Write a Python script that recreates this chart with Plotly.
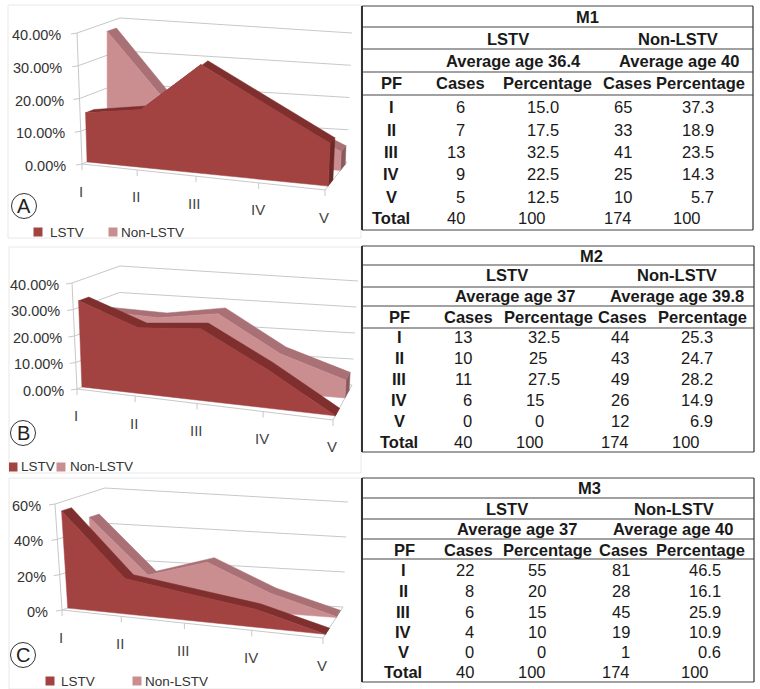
import plotly.graph_objects as go

W, H = 760, 689
FONT = "Liberation Sans"

# ---------- data ----------
grades = ["I", "II", "III", "IV", "V"]
series_names = ["LSTV", "Non-LSTV"]

m1_lstv_cases = ["6", "7", "13", "9", "5"]
m1_lstv_pct = ["15.0", "17.5", "32.5", "22.5", "12.5"]
m1_non_cases = ["65", "33", "41", "25", "10"]
m1_non_pct = ["37.3", "18.9", "23.5", "14.3", "5.7"]

m2_lstv_cases = ["13", "10", "11", "6", "0"]
m2_lstv_pct = ["32.5", "25", "27.5", "15", "0"]
m2_non_cases = ["44", "43", "49", "26", "12"]
m2_non_pct = ["25.3", "24.7", "28.2", "14.9", "6.9"]

m3_lstv_cases = ["22", "8", "6", "4", "0"]
m3_lstv_pct = ["55", "20", "15", "10", "0"]
m3_non_cases = ["81", "28", "45", "19", "1"]
m3_non_pct = ["46.5", "16.1", "25.9", "10.9", "0.6"]

total_row = ["40", "100", "174", "100"]

ticks_a = [0, 10, 20, 30, 40]
ticks_b = [0, 10, 20, 30, 40]
ticks_c = [0, 20, 40, 60]
tick_text_a = ["0.00%", "10.00%", "20.00%", "30.00%", "40.00%"]
tick_text_b = ["0.00%", "10.00%", "20.00%", "30.00%", "40.00%"]
tick_text_c = ["0%", "20%", "40%", "60%"]

# ---------- style ----------
LSTV_FACE, LSTV_TOP, LSTV_CAP = "#A24342", "#7F2F2E", "#6E2827"
NON_FACE, NON_TOP, NON_CAP = "#CB8E90", "#A97075", "#8A5A5E"
GRID = "#C8C8C8"
CAT_POS = [0, 0.227, 0.469, 0.727, 1]  # foreshortening of the category axis

panels = [
    dict(letter="A", box=(8, 5, 361, 238), ymax=40, ticks=ticks_a, tick_text=tick_text_a,
         lstv=m1_lstv_pct, non=m1_non_pct,
         fbl=(82, 164), fbr=(325, 190), ftl=(77, 33), ftr=(332, 52),
         bbl=(118, 149), bbr=(347, 162), btl=(120, 18), btr=(352, 33),
         w_l=(0.14, 0.36), w_n=(0.70, 0.92), tick_dx=-16,
         leg=((38, 232), (48, 232), (113, 232), (119, 232)), circle=(24, 206)),
    dict(letter="B", box=(9, 247, 361, 473), ymax=40, ticks=ticks_b, tick_text=tick_text_b,
         lstv=m2_lstv_pct, non=m2_non_pct,
         fbl=(77, 389), fbr=(333, 420), ftl=(72, 283), ftr=(338, 318),
         bbl=(118, 372), bbr=(352, 385), btl=(120, 266), btr=(358, 281),
         w_l=(0.12, 0.34), w_n=(0.63, 0.85), tick_dx=-13,
         leg=((13, 467), (19, 467), (61, 467), (68, 467)), circle=(23, 433)),
    dict(letter="C", box=(9, 478, 361, 689), ymax=60, ticks=ticks_c, tick_text=tick_text_c,
         lstv=m3_lstv_pct, non=m3_non_pct,
         fbl=(62, 610), fbr=(323, 638), ftl=(55, 504), ftr=(330, 530),
         bbl=(110, 594), bbr=(343, 607), btl=(105, 488), btr=(348, 502),
         w_l=(0.12, 0.32), w_n=(0.66, 0.86), tick_dx=-14,
         leg=((50, 681), (59, 681), (137, 681), (143, 681)), circle=(23, 655)),
]

tables = [
    dict(title="M1", title_x=587, age=("Average age 36.4", "Average age 40"),
         lstv_cases=m1_lstv_cases, lstv_pct=m1_lstv_pct, non_cases=m1_non_cases, non_pct=m1_non_pct,
         left=362, right=753, lines=[6, 27, 49, 72, 95, 230], text_y=[17, 39, 61, 83],
         rows_y=[107, 130, 152, 174, 197, 218],
         head_x=dict(pf=391, lstv=508, non=678, a1=513, a2=679, c1=460, p1=547, c2=627, p2=700),
         pf_x=391, c1r=467, p1r=[561, 561, 561, 561, 561, 548], c2r=634, p2r=716, p2total=703),
    dict(title="M2", title_x=591, age=("Average age 37", "Average age 39.8"),
         lstv_cases=m2_lstv_cases, lstv_pct=m2_lstv_pct, non_cases=m2_non_cases, non_pct=m2_non_pct,
         left=362, right=754, lines=[246, 265, 287, 306, 328, 452], text_y=[256, 275, 296, 317],
         rows_y=[337, 358, 379, 400, 421, 442],
         head_x=dict(pf=399, lstv=507, non=677, a1=515, a2=677, c1=468, p1=548, c2=622, p2=702),
         pf_x=399, c1r=474, p1r=[562, 549, 562, 546, 546, 546], c2r=631, p2r=715, p2total=702),
    dict(title="M3", title_x=589, age=("Average age 37", "Average age 40"),
         lstv_cases=m3_lstv_cases, lstv_pct=m3_lstv_pct, non_cases=m3_non_cases, non_pct=m3_non_pct,
         left=362, right=754, lines=[478, 498, 519, 539, 559, 682], text_y=[488, 509, 529, 550],
         rows_y=[570, 591, 612, 632, 652, 672],
         head_x=dict(pf=404, lstv=507, non=674, a1=517, a2=673, c1=468, p1=547, c2=623, p2=700),
         pf_x=403, c1r=476, p1r=[548, 548, 548, 548, 548, 548], c2r=632, p2r=723, p2total=711),
]


def project(p, u, v, w):
    """Trilinear map of (category 0-1, value 0-1, depth 0-1) onto the panel's pixels."""
    out = []
    for k in (0, 1):
        f_b = p["fbl"][k] * (1 - u) + p["fbr"][k] * u
        f_t = p["ftl"][k] * (1 - u) + p["ftr"][k] * u
        b_b = p["bbl"][k] * (1 - u) + p["bbr"][k] * u
        b_t = p["btl"][k] * (1 - u) + p["btr"][k] * u
        f = f_b * (1 - v) + f_t * v
        b = b_b * (1 - v) + b_t * v
        out.append(f * (1 - w) + b * w)
    return out


def xp(x):
    return x / W


def yp(y):
    return 1 - y / H


fig = go.Figure()
annotations, shapes = [], []
layout_axes = {}


def poly(xa, ya, pts, color):
    fig.add_trace(go.Scatter(
        x=[q[0] for q in pts] + [pts[0][0]], y=[q[1] for q in pts] + [pts[0][1]],
        mode="lines", fill="toself", fillcolor=color, line=dict(color=color, width=0.5),
        hoverinfo="skip", xaxis=xa, yaxis=ya, showlegend=False))


def polyline(xa, ya, xs, ys, color=GRID, width=1):
    fig.add_trace(go.Scatter(x=xs, y=ys, mode="lines", line=dict(color=color, width=width),
                             hoverinfo="skip", xaxis=xa, yaxis=ya, showlegend=False))


for idx, p in enumerate(panels):
    sfx = "" if idx == 0 else str(idx + 1)
    xa, ya = "x" + sfx, "y" + sfx
    x0, y0, x1, y1 = p["box"]
    layout_axes["xaxis" + sfx] = dict(domain=[xp(x0), xp(x1)], range=[x0, x1], visible=False,
                                      anchor=ya, fixedrange=True)
    layout_axes["yaxis" + sfx] = dict(domain=[yp(y1), yp(y0)], range=[y1, y0], visible=False,
                                      anchor=xa, fixedrange=True)
    shapes.append(dict(type="rect", xref="paper", yref="paper", x0=xp(x0), x1=xp(x1), y0=yp(y1), y1=yp(y0),
                       line=dict(color="#E8E8E8", width=1), fillcolor="rgba(0,0,0,0)", layer="below"))

    ymax = p["ymax"]

    # grid: front-left edge, left wall and back wall
    for t, label in zip(p["ticks"], p["tick_text"]):
        v = t / ymax
        a, b, c = project(p, 0, v, 0), project(p, 0, v, 1), project(p, 1, v, 1)
        polyline(xa, ya, [a[0] - 6, a[0], b[0], c[0]], [a[1] + 1, a[1], b[1], c[1]])
        annotations.append(dict(text=label, xref=xa, yref=ya, x=a[0] + p["tick_dx"] + 2, y=a[1] + 2,
                                xanchor="right", yanchor="middle", showarrow=False,
                                font=dict(family=FONT, size=14.5, color="#333333")))
    a, b = project(p, 0, 0, 0), project(p, 0, 1, 0)
    polyline(xa, ya, [a[0], b[0]], [a[1], b[1]])

    # floor edges and category ticks
    a, b, c = project(p, 0, 0, 0), project(p, 1, 0, 0), project(p, 1, 0, 1)
    polyline(xa, ya, [a[0], b[0], c[0]], [a[1], b[1], c[1]])
    for u, g in zip(CAT_POS, grades):
        f = project(p, u, 0, 0)
        polyline(xa, ya, [f[0], f[0]], [f[1], f[1] + 6])
        annotations.append(dict(text=g, xref=xa, yref=ya, x=f[0] - 1, y=f[1] + 27,
                                showarrow=False, font=dict(family=FONT, size=15, color="#444444")))

    # areas, painted from back to front
    for vals, (w0, w1), face, top, cap in [
        (p["non"], p["w_n"], NON_FACE, NON_TOP, NON_CAP),
        (p["lstv"], p["w_l"], LSTV_FACE, LSTV_TOP, LSTV_CAP),
    ]:
        nums = [float(s) / ymax for s in vals]
        front = [project(p, u, v, w0) for u, v in zip(CAT_POS, nums)]
        back = [project(p, u, v, w1) for u, v in zip(CAT_POS, nums)]
        base = [project(p, u, 0, w0) for u in CAT_POS]
        poly(xa, ya, [project(p, 1, nums[-1], w0), project(p, 1, nums[-1], w1),
                      project(p, 1, 0, w1), project(p, 1, 0, w0)], cap)
        poly(xa, ya, front + back[::-1], top)
        poly(xa, ya, front + base[::-1], face)

    # legend
    (sx1, sy1), (tx1, ty1), (sx2, sy2), (tx2, ty2) = p["leg"]
    fig.add_trace(go.Scatter(x=[sx1, sx2], y=[sy1, sy2], mode="markers", hoverinfo="skip",
                             marker=dict(symbol="square", size=9, color=[LSTV_FACE, NON_FACE]),
                             xaxis=xa, yaxis=ya, showlegend=False))
    for tx, ty, name in ((tx1, ty1, series_names[0]), (tx2, ty2, series_names[1])):
        annotations.append(dict(text=name, xref=xa, yref=ya, x=tx, y=ty, xanchor="left", showarrow=False,
                                font=dict(family=FONT, size=13.5, color="#333333")))

    # panel letter
    cx, cy = p["circle"]
    fig.add_trace(go.Scatter(x=[cx], y=[cy], mode="markers", hoverinfo="skip",
                             marker=dict(symbol="circle-open", size=25, color="#333333", line=dict(width=1)),
                             xaxis=xa, yaxis=ya, showlegend=False))
    annotations.append(dict(text=p["letter"], xref=xa, yref=ya, x=cx, y=cy, showarrow=False,
                            font=dict(family=FONT, size=20, color="#222222")))


def txt(x, y, s, bold=False, anchor="center", size=16.5):
    annotations.append(dict(text=f"<b>{s}</b>" if bold else s, xref="paper", yref="paper", x=xp(x), y=yp(y),
                            xanchor=anchor, yanchor="middle", showarrow=False,
                            font=dict(family=FONT, size=size, color="#1A1A1A")))


for t in tables:
    L, R = t["left"], t["right"]
    for y in t["lines"]:
        shapes.append(dict(type="line", xref="paper", yref="paper", x0=xp(L), x1=xp(R), y0=yp(y), y1=yp(y),
                           line=dict(color="#444444", width=1.2)))
    for x, w in ((L, 2), (R, 1.2)):
        shapes.append(dict(type="line", xref="paper", yref="paper", x0=xp(x), x1=xp(x),
                           y0=yp(t["lines"][0]), y1=yp(t["lines"][-1]), line=dict(color="#333333", width=w)))
    h, ty = t["head_x"], t["text_y"]
    txt(t["title_x"], ty[0], t["title"], True)
    txt(h["lstv"], ty[1], "LSTV", True)
    txt(h["non"], ty[1], "Non-LSTV", True)
    txt(h["a1"], ty[2], t["age"][0], True)
    txt(h["a2"], ty[2], t["age"][1], True)
    txt(h["pf"], ty[3], "PF", True)
    txt(h["c1"], ty[3], "Cases", True)
    txt(h["p1"], ty[3], "Percentage", True)
    txt(h["c2"], ty[3], "Cases", True)
    txt(h["p2"], ty[3], "Percentage", True)
    for i, g in enumerate(grades):
        y = t["rows_y"][i]
        txt(t["pf_x"], y, g, True)
        txt(t["c1r"], y, t["lstv_cases"][i], anchor="right")
        txt(t["p1r"][i], y, t["lstv_pct"][i], anchor="right")
        txt(t["c2r"], y, t["non_cases"][i], anchor="right")
        txt(t["p2r"], y, t["non_pct"][i], anchor="right")
    y = t["rows_y"][5]
    txt(t["pf_x"], y, "Total", True)
    txt(t["c1r"], y, total_row[0], anchor="right")
    txt(t["p1r"][5], y, total_row[1], anchor="right")
    txt(t["c2r"], y, total_row[2], anchor="right")
    txt(t["p2total"], y, total_row[3], anchor="right")

fig.update_layout(width=W, height=H, margin=dict(l=0, r=0, t=0, b=0), showlegend=False,
                  paper_bgcolor="white", plot_bgcolor="white",
                  annotations=annotations, shapes=shapes, **layout_axes)
fig.write_html("out.html", post_script="document.body.style.margin='0';",
               config=dict(displayModeBar=False))
